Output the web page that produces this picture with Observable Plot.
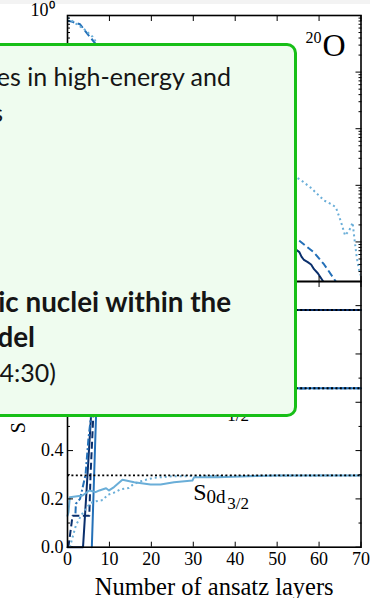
<!DOCTYPE html>
<html><head><meta charset="utf-8">
<script src="https://cdn.jsdelivr.net/npm/d3@7"></script>
<script src="https://cdn.jsdelivr.net/npm/@observablehq/plot@0.6"></script>
<style>
body{margin:0;background:#fff;}
#wrap{position:relative;width:370px;height:598px;overflow:hidden;background:#fff;}
#strip{position:absolute;left:0;top:0;width:370px;height:4px;background:#f3f3f3;}
#top,#bot{position:absolute;left:0;}
#top{top:0px;}
#bot{top:278px;}
#wrap svg{background:transparent !important;overflow:visible;}
#box{position:absolute;left:-20px;top:43px;width:317px;height:374px;box-sizing:border-box;border:3px solid #17bf17;border-radius:10px;background:#effcef;}
.ln{position:absolute;white-space:nowrap;font-family:Lato,"Liberation Sans",sans-serif;font-size:25px;line-height:25px;color:#151515;}
</style></head><body>
<div id="wrap"><div id="strip"></div><div id="top"></div><div id="bot"></div><div id="box"></div></div>
<script>
// ---------- data ----------
const xTicks = [0, 10, 20, 30, 40, 50, 60, 70];
const topDecades = [1, 1e-1, 1e-2, 1e-3, 1e-4];
const botMajor = [0, 0.2, 0.4, 0.6, 0.8, 1.0];
const botMinor = [0.1, 0.3, 0.5, 0.7, 0.9];

// top panel (log scale)
const topSolidX = [0, 3, 6, 10, 15, 20, 30, 40, 50, 55.3, 55.8, 56.4, 57.3, 58.1, 58.8, 59.7, 60.8, 62];
const topSolidY = [0.25, 0.2, 0.1, 0.03, 0.01, 4e-3, 1.5e-3, 5e-4, 1.3e-4, 6.6e-5, 5.5e-5, 4.8e-5, 4.4e-5, 4.0e-5, 3.3e-5, 2.8e-5, 2.1e-5, 1.5e-5];
const topDashX = [0, 1, 3, 5, 6.5, 8, 10, 15, 20, 30, 40, 50, 55.3, 58.8, 61.2, 64, 65];
const topDashY = [0.81, 0.78, 0.70, 0.45, 0.33, 0.2, 0.08, 0.03, 0.012, 3e-3, 8e-4, 2.2e-4, 1.05e-4, 6.5e-5, 4.0e-5, 2.0e-5, 1.6e-5];
const topDotX = [0, 2, 4, 6, 8, 10, 15, 20, 30, 40, 50, 55.7, 58, 61.2, 62.8, 64, 65.2, 66.2, 67.2, 68, 68.4, 69, 69.5, 70];
const topDotY = [0.92, 0.72, 0.57, 0.42, 0.25, 0.15, 0.06, 0.03, 0.012, 5e-3, 2.2e-3, 1.23e-3, 9.1e-4, 5.4e-4, 4.7e-4, 4.1e-4, 2.3e-4, 1.3e-4, 1.6e-4, 2.2e-4, 1.2e-4, 5.2e-5, 3.3e-5, 2.5e-5];

// bottom panel (spectroscopic factors)
const exactLevels = [0.982, 0.658, 0.297];
const s0d52SolidX = [0, 3.7, 4.6, 5.6, 6.4, 7.5, 10, 15, 20, 30, 40, 50, 60, 70];
const s0d52SolidY = [0, 0, 0.25, 0.54, 0.78, 0.9, 0.95, 0.97, 0.978, 0.981, 0.982, 0.982, 0.982, 0.982];
const s0d52DashX = [0.2, 0.8, 1.2, 5.2, 5.5, 6.3, 7.2, 9, 12, 20, 30, 70];
const s0d52DashY = [0, 0.076, 0.13, 0.13, 0.3, 0.6, 0.85, 0.93, 0.96, 0.975, 0.982, 0.982];
const s1s12SolidX = [5.8, 6.8, 7.4, 8.5, 10, 15, 20, 30, 70];
const s1s12SolidY = [0, 0.54, 0.6, 0.63, 0.645, 0.652, 0.656, 0.658, 0.658];
const s1s12DashDotX = [1.9, 2.0, 3.0, 4.3, 5.0, 5.6, 6.5, 8, 12, 20, 70];
const s1s12DashDotY = [0.14, 0.18, 0.2, 0.3, 0.45, 0.54, 0.6, 0.63, 0.65, 0.656, 0.658];
const s0d32SolidX = [0, 0.24, 0.55, 3.6, 5.2, 6.7, 7.6, 9.2, 9.9, 11.1, 13.1, 15.9, 19.8, 22.2, 25.4, 29.8, 30.2, 35.8, 45, 50, 70];
const s0d32SolidY = [0.13, 0.145, 0.207, 0.214, 0.235, 0.228, 0.235, 0.244, 0.235, 0.249, 0.279, 0.269, 0.26, 0.26, 0.269, 0.276, 0.29, 0.29, 0.295, 0.297, 0.297];
const s0d32DotX = [0.55, 2, 3.2, 4.4, 5.6, 6.8, 8.4, 9.6, 11, 12.7, 14.6, 15.8, 18.2, 20.6, 25, 70];
const s0d32DotY = [0, 0.09, 0.13, 0.16, 0.184, 0.19, 0.195, 0.217, 0.225, 0.24, 0.245, 0.262, 0.277, 0.287, 0.294, 0.297];

const orbShell = ["0d", "1s", "0d"];
const orbJ = ["5/2", "1/2", "3/2"];
const orbLabelX = [30, 30, 30];
const orbLabelY = [0.882, 0.558, 0.197];

const xLabel = "Number of ansatz layers";
const yLabel = "S (spectroscopic factor)";
const nucleusMass = "20";
const nucleusSymbol = "O";

const boxLines = [
  {text: "Quantum technologies in high-energy and", right: 231, base: 86, bold: false},
  {text: "nuclear physics", right: 3, base: 122, bold: false},
  {text: "Simulating atomic nuclei within the", right: 231, base: 312, bold: true},
  {text: "nuclear shell model", right: 35, base: 347, bold: true},
  {text: "(Thursday, 14:00\u201314:30)", right: 56, base: 382, bold: false}
];

// ---------- styles ----------
const NAVY = "#0a2f6c", MID = "#2470b8", LIGHT = "#6aaed8";
const pts = (xs, ys) => xs.map((x, i) => ({x, y: ys[i]}));
const blank = () => "";
const sup = {"-": "\u207B", "0": "\u2070", "1": "\u00B9", "2": "\u00B2", "3": "\u00B3", "4": "\u2074", "5": "\u2075"};
const fmtPow = d => "10" + String(Math.round(Math.log10(d))).split("").map(c => sup[c]).join("");
const topMinor = [1e-5, 1e-4, 1e-3, 1e-2, 1e-1].flatMap(d => [2,3,4,5,6,7,8,9].map(k => k * d)).filter(v => v >= 2e-5 && v < 1);
const FONT = "'Liberation Serif', serif";

const topPlot = Plot.plot({
  width: 370, height: 284,
  marginLeft: 67, marginRight: 9.5, marginTop: 15, marginBottom: 3,
  style: {fontFamily: FONT, fontSize: "18px", background: "transparent", color: "black"},
  x: {domain: [0, 70], label: null},
  y: {type: "log", domain: [2e-5, 1], label: null},
  marks: [
    Plot.line(pts(topSolidX, topSolidY), {x: "x", y: "y", stroke: NAVY, strokeWidth: 2, clip: true}),
    Plot.line(pts(topDashX, topDashY), {x: "x", y: "y", stroke: MID, strokeWidth: 2, strokeDasharray: "7,3.5", strokeLinecap: "butt", clip: true}),
    Plot.line(pts(topDotX, topDotY), {x: "x", y: "y", stroke: LIGHT, strokeWidth: 2, strokeDasharray: "2,3", strokeLinecap: "butt", clip: true}),
    Plot.axisY(topDecades, {anchor: "left", tickSize: -6, tickFormat: blank}),
    Plot.axisY(topMinor, {anchor: "left", tickSize: -3, tickFormat: blank}),
    Plot.axisY(topDecades, {anchor: "left", tickSize: 0, tickPadding: 13, dy: -5, tickFormat: fmtPow, fontSize: 18}),
    Plot.axisY(topDecades, {anchor: "right", tickSize: -6, tickFormat: blank}),
    Plot.axisY(topMinor, {anchor: "right", tickSize: -3, tickFormat: blank}),
    Plot.axisX(xTicks, {anchor: "top", tickSize: -5, tickFormat: blank}),
    Plot.axisX(xTicks, {anchor: "bottom", tickSize: -5, tickFormat: blank}),
    Plot.frame({stroke: "black", strokeWidth: 1.6}),
    Plot.text([nucleusSymbol], {frameAnchor: "top-right", textAnchor: "end", lineAnchor: "bottom", dx: -15.5, dy: 40, fontSize: 32, fill: "black"}),
    Plot.text([nucleusMass], {frameAnchor: "top-right", textAnchor: "end", lineAnchor: "bottom", dx: -39.5, dy: 27.7, fontSize: 16, fill: "black"})
  ]
});
document.getElementById("top").appendChild(topPlot);

const botPlot = Plot.plot({
  width: 370, height: 320,
  marginLeft: 67, marginRight: 9.5, marginTop: 3, marginBottom: 51.3,
  style: {fontFamily: FONT, fontSize: "18px", background: "transparent", color: "black"},
  x: {domain: [0, 70], label: null},
  y: {domain: [0, 1.1], label: null},
  marks: [
    Plot.line(pts(s0d52SolidX, s0d52SolidY), {x: "x", y: "y", stroke: NAVY, strokeWidth: 2}),
    Plot.line(pts(s0d52DashX, s0d52DashY), {x: "x", y: "y", stroke: NAVY, strokeWidth: 2, strokeDasharray: "7,3.5", strokeLinecap: "butt"}),
    Plot.line(pts(s1s12SolidX, s1s12SolidY), {x: "x", y: "y", stroke: MID, strokeWidth: 2}),
    Plot.line(pts(s1s12DashDotX, s1s12DashDotY), {x: "x", y: "y", stroke: MID, strokeWidth: 2, strokeDasharray: "7,2.5,2,2.5", strokeLinecap: "butt"}),
    Plot.line(pts(s0d32SolidX, s0d32SolidY), {x: "x", y: "y", stroke: LIGHT, strokeWidth: 2}),
    Plot.line(pts(s0d32DotX, s0d32DotY), {x: "x", y: "y", stroke: LIGHT, strokeWidth: 2, strokeDasharray: "2,3", strokeLinecap: "butt"}),
    Plot.ruleY(exactLevels, {stroke: "black", strokeWidth: 1.8, strokeDasharray: "2,2.4"}),
    Plot.text(orbLabelX, {x: orbLabelX, y: orbLabelY, text: () => "S", textAnchor: "start", lineAnchor: "bottom", fontSize: 24, fill: "black"}),
    Plot.text(orbLabelX, {x: orbLabelX, y: orbLabelY, text: orbShell, textAnchor: "start", lineAnchor: "bottom", dx: 13.3, dy: 3, fontSize: 19, fill: "black"}),
    Plot.text(orbLabelX, {x: orbLabelX, y: orbLabelY, text: orbJ, textAnchor: "start", lineAnchor: "bottom", dx: 34, dy: 9, fontSize: 17, fill: "black"}),
    Plot.axisY(botMajor, {anchor: "left", tickSize: -6, tickFormat: blank}),
    Plot.axisY(botMinor, {anchor: "left", tickSize: -3, tickFormat: blank}),
    Plot.axisY(botMajor, {anchor: "left", tickSize: 0, tickPadding: 4, tickFormat: d3.format(".1f"), fontSize: 18}),
    Plot.axisY(botMajor, {anchor: "right", tickSize: -6, tickFormat: blank}),
    Plot.axisY(botMinor, {anchor: "right", tickSize: -3, tickFormat: blank}),
    Plot.axisX(xTicks, {anchor: "bottom", tickSize: -5, tickFormat: blank}),
    Plot.axisX(xTicks, {anchor: "bottom", tickSize: 0, tickPadding: 5, tickFormat: d => String(d), fontSize: 18}),
    Plot.axisX(xTicks, {anchor: "top", tickSize: -5, tickFormat: blank}),
    Plot.frame({stroke: "black", strokeWidth: 1.6}),
    Plot.text([xLabel], {frameAnchor: "bottom", lineAnchor: "top", dy: 30, fontSize: 24.5, fill: "black"}),
    Plot.text([yLabel], {frameAnchor: "bottom-left", textAnchor: "start", lineAnchor: "bottom", rotate: -90, dx: -43, dy: -114, fontSize: 20, fill: "black"})
  ]
});
document.getElementById("bot").appendChild(botPlot);

// ---------- overlay text ----------
const wrap = document.getElementById("wrap");
for (const L of boxLines) {
  const d = document.createElement("div");
  d.className = "ln";
  d.style.fontWeight = L.bold ? "700" : "400";
  d.style.fontSize = L.bold ? "27.8px" : "25px";
  const t = document.createElement("span");
  t.textContent = L.text;
  const m = document.createElement("span");
  m.style.cssText = "display:inline-block;width:0;height:0;vertical-align:baseline";
  d.appendChild(t); d.appendChild(m);
  d.style.right = (370 - L.right) + "px";
  d.style.top = "0px";
  wrap.appendChild(d);
  const base = m.offsetTop;
  d.style.top = (L.base - base) + "px";
}
</script>
</body></html>
